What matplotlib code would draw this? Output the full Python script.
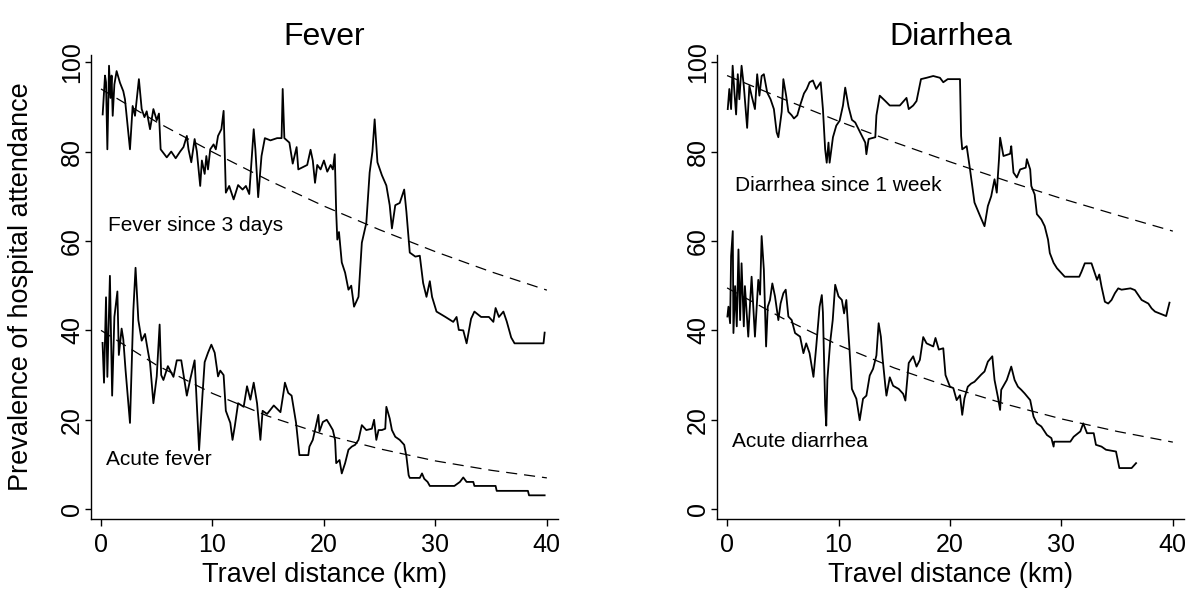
import matplotlib
matplotlib.use("Agg")
import matplotlib.pyplot as plt

plt.rcParams['font.family'] = ['Liberation Sans', 'DejaVu Sans']
plt.rcParams['lines.scale_dashes'] = False

# ---- data (km, % attending hospital) ----
fever3d_km = [0.15, 0.36, 0.45, 0.57, 0.72, 0.85, 0.95, 1.05, 1.2, 1.4, 1.7, 2.0, 2.15, 2.45,
              2.6, 2.84, 3.05, 3.4, 3.65, 3.9, 4.1, 4.4, 4.7, 5.0, 5.2, 5.35, 5.9, 6.3, 6.7,
              7.1, 7.4, 7.7, 7.85, 8.1, 8.4, 8.6, 8.9, 9.05, 9.3, 9.45, 9.6, 9.8, 10.1, 10.3,
              10.5, 10.8, 11.0, 11.1, 11.2, 11.5, 11.9, 12.3, 12.7, 13.0, 13.3, 13.7, 13.85,
              14.1, 14.4, 14.7, 15.2, 15.8, 16.2, 16.3, 16.45, 16.9, 17.2, 17.55, 17.7, 18.1,
              18.5, 18.8, 19.0, 19.2, 19.4, 19.7, 20.0, 20.3, 20.6, 20.8, 20.97, 21.1, 21.2,
              21.35, 21.6, 21.9, 22.2, 22.45, 22.7, 23.1, 23.4, 23.8, 24.1, 24.35, 24.55, 24.8,
              25.2, 25.6, 25.9, 26.1, 26.4, 26.8, 27.2, 27.4, 27.7, 28.2, 28.6, 28.9, 29.2,
              29.5, 29.7, 30.1, 30.9, 31.6, 31.9, 32.1, 32.5, 32.8, 33.2, 33.5, 34.1, 34.8,
              35.2, 35.4, 35.7, 36.1, 36.4, 36.8, 37.1, 39.7, 39.8]
fever3d_pct = [88.3, 97, 95.5, 80.5, 99.2, 92, 97, 88, 95, 98, 95.4, 93.5, 91.7, 84.3,
               80.5, 90.2, 88, 96.2, 89.5, 87.7, 89, 85, 89.5, 87, 88.5, 80.5, 78.7, 80, 78.5,
               80, 81, 83.5, 80.5, 77.6, 82.8, 80, 72.3, 78, 75, 79, 76, 80.5, 81.6, 80.5,
               83.5, 85, 89.1, 80, 70.8, 72.3, 69.3, 72.5, 71.5, 72.3, 70.5, 85, 80.5,
               69.8, 79, 83, 82.5, 83, 83, 94, 83, 82, 77.3, 81, 76, 76.5,
               77, 80.4, 78, 73, 77, 76, 78, 75.5, 77, 76, 79.4, 66.4, 60.3,
               62, 55.2, 52.9, 49.1, 50, 45.3, 47.5, 59.6, 64, 75.3, 80, 87.2, 77.6,
               74.7, 72.4, 68, 62.8, 68, 68.5, 71.5, 66.5, 57.4, 56.5, 56.7, 50.6, 47.5,
               51, 47.5, 44.2, 43, 41.9, 43, 40.1, 40, 37.1, 42.6, 44.2, 43, 43,
               41.9, 45, 43, 44.2, 42, 38.4, 37.1, 37.1, 39.5]

acutefever_km = [0.14, 0.27, 0.45, 0.57, 0.8, 1.0, 1.2, 1.47, 1.6, 1.85, 2.0, 2.2, 2.6, 2.9,
                 3.1, 3.35, 3.65, 3.95, 4.2, 4.4, 4.7, 5.0, 5.26, 5.4, 5.6, 6.0, 6.5, 6.8,
                 7.2, 7.7, 8.0, 8.4, 8.8, 9.1, 9.3, 9.6, 9.9, 10.2, 10.5, 10.7, 11.0, 11.2,
                 11.6, 11.8, 12.0, 12.3, 12.8, 13.1, 13.4, 13.7, 14.0, 14.3, 14.5, 14.9, 15.5,
                 16.1, 16.4, 16.5, 16.8, 17.1, 17.5, 17.8, 18.6, 18.7, 19.0, 19.2, 19.5, 19.6,
                 19.9, 20.25, 20.5, 20.8, 21.0, 21.1, 21.4, 21.6, 21.9, 22.2, 22.5, 22.8, 23.1,
                 23.4, 23.8, 24.3, 24.5, 24.7, 24.9, 25.2, 25.5, 25.6, 25.9, 26.1, 26.4, 26.8,
                 27.2, 27.4, 27.6, 27.7, 28.6, 28.8, 29.0, 29.3, 29.5, 31.7, 32.2, 32.5, 32.8,
                 33.4, 33.5, 35.4, 35.5, 38.3, 38.4, 39.8]
acutefever_pct = [37.2, 28.3, 47.4, 29.6, 52.2, 25.4, 43, 48.7, 34.5, 40.4, 38, 31.2, 19.3, 44.4,
                  54, 42.3, 37.7, 39.2, 35.5, 32.7, 23.7, 29.7, 41.3, 30, 28.9, 32, 29.6, 33.3,
                  33.3, 25.4, 29, 33.3, 13.2, 25.4, 32.9, 35, 36.8, 35, 29.7, 31, 30, 22,
                  19.3, 15.5, 18.5, 23.7, 22.9, 27.5, 24.5, 28.3, 23.7, 15.5, 22, 21.3, 23.2,
                  21.7, 26.5, 28.3, 26, 25.4, 19.3, 12.1, 12.1, 14, 15.5, 17.7, 21.1, 17.4,
                  19.5, 20, 19, 17.7, 15.5, 10.3, 11, 8, 10.3, 13.3, 14, 14.4, 15.5,
                  18.8, 17.7, 18, 20, 15.5, 17.7, 17.7, 18, 22.9, 20.3, 17.7, 16.2, 15.5,
                  14.4, 11.8, 7.6, 7, 7, 8, 6.8, 6.1, 5.2, 5.2, 6.1, 7.1, 6.1,
                  6.1, 5.2, 5.2, 4.1, 4.1, 3.1, 3.1]

diar1w_km = [0.06, 0.2, 0.36, 0.5, 0.66, 0.81, 0.96, 1.1, 1.3, 1.5, 1.8, 2.0, 2.2, 2.5, 2.7,
             2.9, 3.1, 3.3, 3.6, 3.9, 4.2, 4.45, 4.6, 4.9, 5.05, 5.3, 5.5, 5.8, 6.0, 6.3,
             6.55, 6.9, 7.15, 7.4, 7.7, 8.0, 8.4, 8.6, 8.8, 8.94, 9.1, 9.2, 9.5, 9.8, 10.1,
             10.4, 10.6, 10.9, 11.2, 11.5, 11.8, 12.1, 12.4, 12.5, 12.7, 13.3, 13.4, 13.7,
             14.2, 14.6, 15.5, 16.1, 16.3, 16.7, 17.0, 17.4, 17.9, 18.5, 19.1, 19.4, 19.8,
             20.9, 21.0, 21.1, 21.5, 21.8, 22.2, 22.7, 23.1, 23.4, 23.7, 24.0, 24.2, 24.4,
             24.5, 24.8, 25.4, 25.5, 25.7, 26.0, 26.3, 26.8, 26.9, 27.2, 27.3, 27.6, 27.8,
             28.2, 28.5, 28.8, 28.96, 29.3, 29.6, 30.0, 30.3, 31.6, 31.8, 32.1, 32.7, 33.0,
             33.2, 33.4, 33.6, 33.9, 34.2, 34.5, 34.8, 35.1, 35.4, 36.2, 36.6, 36.9, 37.2,
             37.8, 38.1, 38.4, 39.4, 39.7]
diar1w_pct = [89.5, 94, 89.5, 99.2, 93.2, 88.3, 97.3, 91.7, 99.2, 94.7, 85.3, 94.7, 92.5, 89.5, 97.3,
              92.5, 96.9, 97.3, 93.2, 91.7, 89.5, 84.3, 83.2, 88.9, 96.2, 92.5, 88.9, 88.1, 87.4, 88.1,
              90.3, 93, 94, 95.5, 95.9, 94, 95.5, 89.5, 80.5, 77.5, 82, 77.5, 83.2, 85.8, 86.9,
              90.3, 94.3, 90, 87.1, 86.5, 85, 83.5, 82, 79.4, 82.8, 83.2, 88.1, 92.5,
              91.3, 90.3, 90.3, 92, 89.5, 90.3, 91.3, 96.2, 96.5, 96.9, 96.5, 95.5, 96.2,
              96.2, 83.5, 80.5, 81.2, 76, 68.6, 65.6, 63.3, 67.8, 70, 73.8, 70.8, 78.3,
              83.1, 79, 79.5, 81.2, 75.3, 74.2, 76, 76.4, 78.3, 76, 72.3, 70.4, 66,
              64.8, 63.3, 60.3, 57.3, 55.1, 53.9, 52.8, 52, 52, 53.1, 55, 55, 52.8,
              51.3, 52.5, 49.8, 46.4, 46, 46.8, 48.3, 49.4, 49.1, 49.4, 49, 47.9, 46.8,
              46, 44.9, 44.2, 43.2, 46.2]

acutediar_km = [0.03, 0.12, 0.27, 0.36, 0.51, 0.57, 0.72, 0.87, 1.02, 1.17, 1.3, 1.5, 1.6, 1.9,
                2.06, 2.2, 2.36, 2.5, 2.8, 2.96, 3.1, 3.3, 3.5, 3.65, 3.85, 4.06, 4.3, 4.6,
                4.8, 5.05, 5.26, 5.5, 5.8, 6.1, 6.55, 6.85, 7.1, 7.4, 7.75, 8.0, 8.3, 8.5,
                8.6, 8.8, 8.9, 9.0, 9.24, 9.48, 9.7, 10.0, 10.3, 10.5, 10.7, 10.97, 11.2,
                11.6, 11.9, 12.2, 12.5, 12.8, 13.1, 13.4, 13.6, 13.8, 13.96, 14.2, 14.3, 14.6,
                14.9, 15.4, 15.8, 16.0, 16.3, 16.7, 17.0, 17.3, 17.6, 17.9, 18.5, 18.7, 19.0,
                19.4, 19.6, 20.0, 20.3, 20.6, 20.9, 21.1, 21.3, 21.6, 21.9, 22.2, 22.5, 22.8,
                23.1, 23.4, 23.8, 24.0, 24.3, 24.5, 24.6, 25.1, 25.5, 25.8, 26.1, 26.4, 26.7,
                27.2, 27.5, 27.8, 28.2, 28.7, 29.1, 29.3, 29.35, 30.8, 31.1, 31.7, 31.96, 32.3,
                32.9, 33.1, 33.6, 34.0, 34.9, 35.2, 36.3, 36.7]
acutediar_pct = [43.1, 45.3, 41.6, 56.6, 62.2, 39.4, 49.9, 40.9, 58.1, 42.3, 55, 40.9, 49.9, 38.6,
                 46, 52, 45, 38.6, 51.3, 48, 61.1, 53.6, 36.4, 45.3, 46.8, 50.5, 47.6, 42.3,
                 46, 48.3, 49.1, 43.1, 42.3, 39.4, 38.6, 34.9, 37.1, 34.9, 29.6, 36.4, 45.3, 47.9,
                 44, 23.2, 18.7, 29, 37.1, 42.3, 50.2, 47.6, 46.8, 43.8, 46.8, 36.4, 26.9,
                 24.7, 19.9, 24.7, 25.4, 29.9, 31.4, 34.4, 41.6, 38.6, 33.6, 27.6, 25.4, 29.5,
                 27.6, 26.9, 25.8, 24.3, 32.7, 34.2, 31.9, 33.4, 38.5, 37.1, 36.4, 38.3, 35.7,
                 36, 30, 27.4, 27.1, 24.4, 25.5, 21.1, 24.8, 27.4, 28.1, 28.5, 29.3, 30.1,
                 30.8, 33, 34.2, 28.9, 25.1, 22.2, 26.7, 28.9, 31.9, 28.9, 27.4, 26.7, 25.9,
                 24.4, 20.7, 19.2, 18.5, 16.6, 15.9, 14, 15.1, 15.1, 16.2, 17.4, 19.2, 17,
                 17, 14.4, 14, 13.3, 12.9, 9.2, 9.2, 10.3]

# fitted trend lines (dashed), read every 5 km
fit_km = [0, 5, 10, 15, 20, 25, 30, 35, 40]
fever3d_fit = [94, 86.6, 79.9, 73.6, 67.8, 62.5, 57.6, 53.1, 49.0]
acutefever_fit = [40, 32.2, 25.9, 20.8, 16.7, 13.5, 10.8, 8.7, 7.0]
diar1w_fit = [97, 91.8, 86.8, 82.1, 77.7, 73.5, 69.5, 65.8, 62.2]
acutediar_fit = [49.5, 42.7, 36.7, 31.6, 27.3, 23.5, 20.2, 17.4, 15.0]

x_ticks = [0, 10, 20, 30, 40]
y_ticks = [0, 20, 40, 60, 80, 100]

fig = plt.figure(figsize=(11.86, 5.90), dpi=100)
ax1 = fig.add_axes([0.0767, 0.1203, 0.3938, 0.7865])
ax2 = fig.add_axes([0.6046, 0.1203, 0.3937, 0.7865])


def style_axis(ax, title):
    for side in ('top', 'right'):
        ax.spines[side].set_visible(False)
    ax.spines['left'].set_linewidth(1.0)
    ax.spines['bottom'].set_linewidth(1.0)
    ax.set_xlim(-0.9, 41.0)
    ax.set_ylim(-2.2, 101.6)
    ax.set_xticks(x_ticks)
    ax.set_yticks(y_ticks)
    ax.tick_params(axis='both', direction='out', length=5, width=1.0, labelsize=18, pad=5)
    ax.tick_params(axis='y', labelrotation=90, length=4, pad=1)
    for lab in ax.get_yticklabels():
        lab.set_va('center')
    ax.set_xlabel('Travel distance (km)', fontsize=19.5, labelpad=4)
    ax.set_title(title, fontsize=23, pad=7)


def draw(ax, km, pct, fit, label, label_xy):
    ax.plot(km, pct, color='black', lw=1.3)
    ax.plot(fit_km, fit, color='black', lw=0.9, dashes=(8, 5))
    ax.text(label_xy[0], label_xy[1], label, fontsize=15, va='center', ha='left')


draw(ax1, fever3d_km, fever3d_pct, fever3d_fit, 'Fever since 3 days', (0.6, 63.5))
draw(ax1, acutefever_km, acutefever_pct, acutefever_fit, 'Acute fever', (0.45, 11.2))
draw(ax2, diar1w_km, diar1w_pct, diar1w_fit, 'Diarrhea since 1 week', (0.7, 72.4))
draw(ax2, acutediar_km, acutediar_pct, acutediar_fit, 'Acute diarrhea', (0.45, 15.2))

style_axis(ax1, 'Fever')
style_axis(ax2, 'Diarrhea')
ax1.set_ylabel('Prevalence of hospital attendance', fontsize=19.5)
ax1.yaxis.set_label_coords(-0.122, 0.5)

fig.savefig('out.png', dpi=100)
